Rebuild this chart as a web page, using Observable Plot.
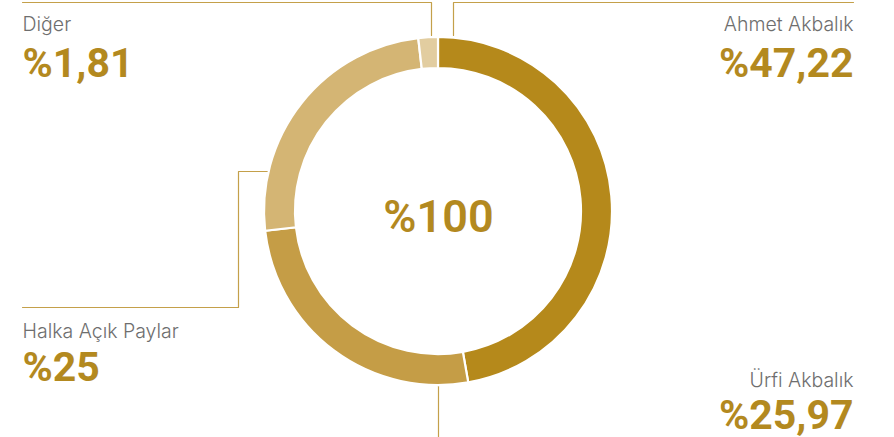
<!DOCTYPE html>
<html>
<head>
<meta charset="utf-8">
<script src="https://cdn.jsdelivr.net/npm/d3@7"></script>
<script src="https://cdn.jsdelivr.net/npm/@observablehq/plot@0.6"></script>
<style>
  html, body { margin: 0; padding: 0; background: #fff; }
  #chart svg { display: block; }
</style>
</head>
<body>
<div id="chart"></div>
<script>
// ---- data ----
const names = ["Ahmet Akbalık", "Ürfi Akbalık", "Halka Açık Paylar", "Diğer"];
const shares = [47.22, 25.97, 25, 1.81];
const totalLabel = "%100";

// ---- style ----
const segColors = ["#B5891B", "#C59D46", "#D4B574", "#E2CDA0"];
const gold = "#B3891F";
const lineColor = "#C4A04A";
const labelColor = "#6E6E6E";
const FONT = "Inter, 'Noto Sans', sans-serif";
const NUMFONT = "Roboto, Inter, sans-serif";

// ---- layout ----
const W = 894, H = 437;
const center = {x: 438, y: 211};
const rOuter = 174, rInner = 143;
const labelPos = [
  {x: 853, y: 30, gap: 46, anchor: "end"},
  {x: 853, y: 386, gap: 42, anchor: "end"},
  {x: 22, y: 337, gap: 43, anchor: "start"},
  {x: 22, y: 30, gap: 46, anchor: "start"}
];
const connectors = [
  [[453, 35], [453, 2], [853, 2]],
  [[438, 386], [438, 437]],
  [[22, 307], [238, 307], [238, 171], [268, 171]],
  [[22, 2], [431, 2], [431, 35]]
];

const fmt = v => "%" + String(v).replace(".", ",");
const rows = names.map((n, i) => ({name: n, value: shares[i], color: segColors[i], ...labelPos[i]}));
const lines = connectors.flatMap((pts, i) => pts.map(([x, y]) => ({id: i, x, y})));
const left = rows.filter(d => d.anchor === "start");
const right = rows.filter(d => d.anchor === "end");

function donut(data) {
  return (index, scales) => {
    const pie = d3.pie().sort(null).value(d => d.value)(data);
    const k = scales.x(1) - scales.x(0);
    const arc = d3.arc().innerRadius(rInner * k).outerRadius(rOuter * k);
    const g = d3.create("svg:g")
      .attr("transform", `translate(${scales.x(center.x)},${scales.y(center.y)})`);
    g.selectAll("path").data(pie).join("path")
      .attr("d", arc)
      .attr("fill", d => d.data.color)
      .attr("stroke", "#fff")
      .attr("stroke-width", 2.2);
    return g.node();
  };
}

const nameOpts = {x: "x", y: "y", text: "name", lineAnchor: "bottom", fontSize: 19.5, fontWeight: 300, fill: labelColor};
const valOpts = {x: "x", y: d => d.y + d.gap, text: d => fmt(d.value), lineAnchor: "bottom",
  fontSize: 41, fontWeight: 700, fill: gold, fontFamily: NUMFONT};

const chart = Plot.plot({
  width: W,
  height: H,
  margin: 0,
  x: {domain: [0, W], range: [0, W], axis: null},
  y: {domain: [0, H], range: [0, H], axis: null},
  style: {fontFamily: FONT, background: "#fff"},
  marks: [
    Plot.line(lines, {x: "x", y: "y", z: "id", stroke: lineColor, strokeWidth: 1.2, curve: "linear"}),
    donut(rows),
    Plot.text(left, {...nameOpts, textAnchor: "start"}),
    Plot.text(right, {...nameOpts, textAnchor: "end"}),
    Plot.text(left, {...valOpts, textAnchor: "start"}),
    Plot.text(right, {...valOpts, textAnchor: "end"}),
    Plot.text([totalLabel], {
      x: center.x, y: center.y + 6, text: d => d,
      fontSize: 45, fontWeight: 600, fill: gold, fontFamily: NUMFONT
    })
  ]
});
document.getElementById("chart").appendChild(chart);
</script>
</body>
</html>
